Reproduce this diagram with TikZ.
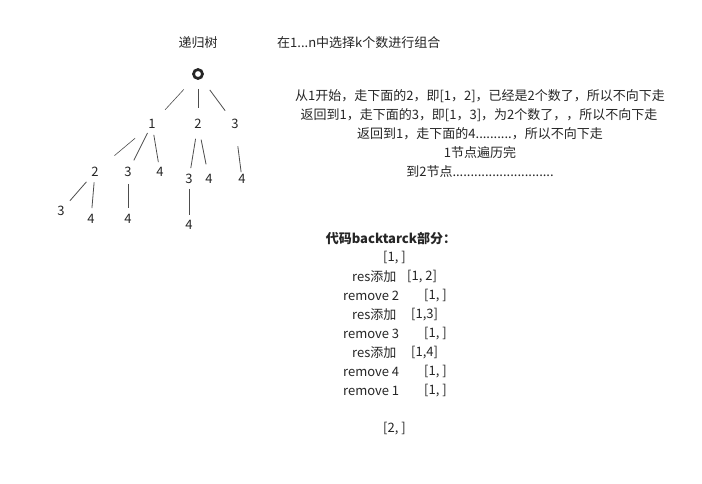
\documentclass[tikz,border=0pt]{standalone}
\usepackage{fontspec}
\setmainfont{Noto Sans CJK SC}
\definecolor{txt}{HTML}{262626}
\definecolor{edge}{HTML}{4D4D4D}
\begin{document}
\begin{tikzpicture}[x=1pt,y=-1pt,
  every node/.style={inner sep=0pt, text=txt, font=\fontsize{13}{16}\selectfont},
  lbl/.style={anchor=center},
  lft/.style={anchor=west},
  edg/.style={draw=edge, line width=0.8pt}]
\useasboundingbox[fill=white] (0,0) rectangle (702,484);
% titles
\node[lbl] (title) at (198,43) {递归树};
\node[lft] (task) at (277,43) {在1...n中选择k个数进行组合};
% tree
\node[circle, draw=txt, line width=2.7pt, minimum size=9pt] (o) at (198,74) {};
\node[lbl] (a1) at (152,124) {1};
\node[lbl] (a2) at (198,124) {2};
\node[lbl] (a3) at (235,124) {3};
\node[lbl] (b12) at (95,172) {2};
\node[lbl] (b13) at (128,172) {3};
\node[lbl] (b14) at (160,172) {4};
\node[lbl] (b23) at (189,179) {3};
\node[lbl] (b24) at (209,179) {4};
\node[lbl] (b34) at (242,179) {4};
\node[lbl] (c3) at (61,211) {3};
\node[lbl] (c4a) at (91,219) {4};
\node[lbl] (c4b) at (128,219) {4};
\node[lbl] (c4c) at (189,225) {4};
\draw[edg, line width=0.6pt, shorten <=21pt, shorten >=19.4pt] (o.center) -- (a1.center);
\draw[edg, shorten <=15pt, shorten >=16pt] (o.center) -- (a2.center);
\draw[edg, shorten <=19.8pt, shorten >=16.6pt] (o.center) -- (a3.center);
\draw[edg, line width=0.6pt, shorten <=22pt, shorten >=25.5pt] (a1.center) -- (b12.center);
\draw[edg, shorten <=10pt, shorten >=13pt] (a1.center) -- (b13.center);
\draw[edg, shorten <=11pt, shorten >=10pt] (a1.center) -- (b14.center);
\draw[edg, shorten <=15pt, shorten >=11pt] (a2.center) -- (b23.center);
\draw[edg, shorten <=16pt, shorten >=15pt] (a2.center) -- (b24.center);
\draw[edg, shorten <=22.5pt, shorten >=7pt] (a3.center) -- (b34.center);
\draw[edg, shorten <=13pt, shorten >=13.6pt] (b12.center) -- (c3.center);
\draw[edg, shorten <=10.5pt, shorten >=11pt] (b12.center) -- (c4a.center);
\draw[edg, shorten <=12pt, shorten >=11pt] (b13.center) -- (c4b.center);
\draw[edg, shorten <=10pt, shorten >=10pt] (b23.center) -- (c4c.center);
% explanation
\node[lbl] (p1) at (480,96) {从1开始，走下面的2，即[1，2]，已经是2个数了，所以不向下走};
\node[lbl] (p2) at (479,115) {返回到1，走下面的3，即[1，3]，为2个数了，，所以不向下走};
\node[lbl] (p3) at (480,133.5) {返回到1，走下面的4..........，所以不向下走};
\node[lbl] (p4) at (480,152.5) {1节点遍历完};
\node[lbl] (p5) at (480,172) {到2节点............................};
% code part
\node[lbl, font=\fontsize{13}{16}\selectfont\bfseries] (code) at (391,239) {代码backtarck部分：};
\node[lbl] (s0) at (394.5,257.5) {[1, ]};
\node[lft] (l1) at (352,276.5) {res添加};
\node[lft] (r1) at (407,276.5) {[1, 2]};
\node[lft] (l2) at (343,295.5) {remove 2};
\node[lft] (r2) at (424,295.5) {[1, ]};
\node[lft] (l3) at (352,314.5) {res添加};
\node[lft] (r3) at (411,314.5) {[1,3]};
\node[lft] (l4) at (343,333.5) {remove 3};
\node[lft] (r4) at (424,333.5) {[1, ]};
\node[lft] (l5) at (352,352.5) {res添加};
\node[lft] (r5) at (411,352.5) {[1,4]};
\node[lft] (l6) at (343,371.5) {remove 4};
\node[lft] (r6) at (424,371.5) {[1, ]};
\node[lft] (l7) at (343,390.5) {remove 1};
\node[lft] (r7) at (424,390.5) {[1, ]};
\node[lbl] (s9) at (394.5,429) {[2, ]};
\end{tikzpicture}
\end{document}
